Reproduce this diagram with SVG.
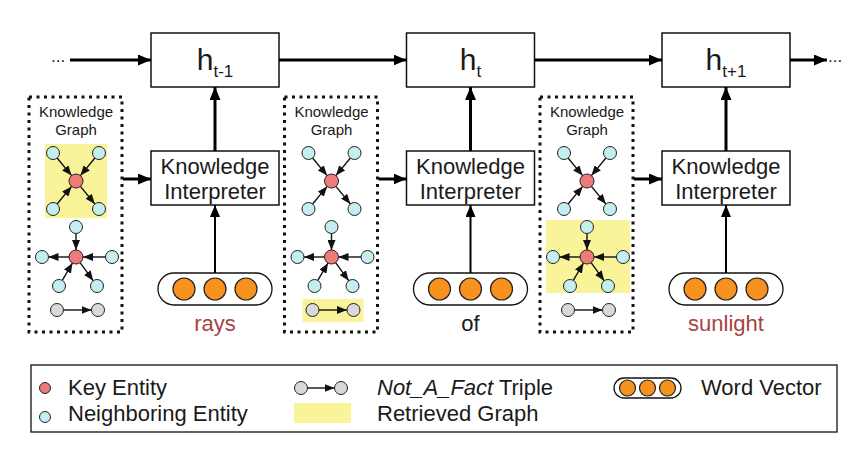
<svg xmlns="http://www.w3.org/2000/svg" width="864" height="462" viewBox="0 0 864 462">
<style>
text{font-family:"Liberation Sans",Arial,sans-serif;fill:#1a1a1a}
.box{fill:#fff;stroke:#111;stroke-width:1.5}
.dot{fill:none;stroke:#111;stroke-width:3;stroke-dasharray:3 4.5}
.key{fill:#ee7b78;stroke:#222;stroke-width:1}
.nb{fill:#c4eef0;stroke:#222;stroke-width:1}
.gr{fill:#d9d9d9;stroke:#222;stroke-width:1}
.or{fill:#f7921e;stroke:#222;stroke-width:1.2}
.hl{fill:#f9f49a}
.ga{stroke:#111;stroke-width:1.4;marker-end:url(#sa)}
.big{stroke:#000;stroke-width:3;fill:none;marker-end:url(#ba)}
.mid{stroke:#000;stroke-width:2;fill:none;marker-end:url(#ma)}
.ki{font-size:22px;text-anchor:middle}
.kg{font-size:15px;text-anchor:middle}
.lg{font-size:22px}
.w{font-size:22px;text-anchor:middle}
</style>
<defs>
<marker id="sa" markerUnits="userSpaceOnUse" markerWidth="10" markerHeight="8" refX="10" refY="4" orient="auto"><path d="M0,0 L10,4 L0,8 z" fill="#111"/></marker>
<marker id="ba" markerUnits="userSpaceOnUse" markerWidth="13" markerHeight="11" refX="13" refY="5.5" orient="auto"><path d="M0,0 L13,5.5 L0,11 z" fill="#000"/></marker>
<marker id="ma" markerUnits="userSpaceOnUse" markerWidth="12" markerHeight="10" refX="12" refY="5" orient="auto"><path d="M0,0 L12,5 L0,10 z" fill="#000"/></marker>
<g id="kgraph">
<rect class="dot" x="29" y="97" width="93" height="235"/>
<text class="kg" x="76" y="117">Knowledge</text>
<text class="kg" x="76" y="135">Graph</text>
<line class="ga" x1="57.1" y1="158.0" x2="71.6" y2="175.6"/>
<line class="ga" x1="94.9" y1="158.0" x2="80.4" y2="175.6"/>
<line class="ga" x1="57.1" y1="204.0" x2="71.6" y2="186.4"/>
<line class="ga" x1="80.4" y1="186.4" x2="94.9" y2="204.0"/>
<circle class="nb" cx="53" cy="153" r="6.5"/>
<circle class="nb" cx="99" cy="153" r="6.5"/>
<circle class="nb" cx="53" cy="209" r="6.5"/>
<circle class="nb" cx="99" cy="209" r="6.5"/>
<circle class="key" cx="76" cy="181" r="7"/>
<line class="ga" x1="76" y1="233.5" x2="76" y2="250"/>
<line class="ga" x1="69" y1="257" x2="48.5" y2="257"/>
<line class="ga" x1="105.5" y1="257" x2="83" y2="257"/>
<line class="ga" x1="62.3" y1="280.4" x2="72.5" y2="263"/>
<line class="ga" x1="80.1" y1="262.7" x2="93.2" y2="280.7"/>
<circle class="nb" cx="76" cy="227" r="6.5"/>
<circle class="nb" cx="42" cy="257" r="6.5"/>
<circle class="nb" cx="112" cy="257" r="6.5"/>
<circle class="nb" cx="59" cy="286" r="6.5"/>
<circle class="nb" cx="97" cy="286" r="6.5"/>
<circle class="key" cx="76" cy="257" r="7"/>
<line class="ga" x1="63.5" y1="310" x2="91.5" y2="310"/>
<circle class="gr" cx="57" cy="310" r="6.5"/>
<circle class="gr" cx="98" cy="310" r="6.5"/>
</g>
<g id="wvec">
<rect x="158" y="273" width="114" height="32" rx="16" fill="#fff" stroke="#111" stroke-width="1.3"/>
<circle class="or" cx="184" cy="289" r="11"/>
<circle class="or" cx="215" cy="289" r="11"/>
<circle class="or" cx="246" cy="289" r="11"/>
</g>
</defs>

<!-- hidden states -->
<g id="h_tm1"><rect class="box" x="151" y="33" width="128" height="54"/>
<text x="215" y="70" font-size="30" text-anchor="middle">h<tspan font-size="17" dy="7">t-1</tspan></text></g>
<g id="h_t"><rect class="box" x="406.5" y="33" width="128" height="54"/>
<text x="470.5" y="70" font-size="30" text-anchor="middle">h<tspan font-size="17" dy="7">t</tspan></text></g>
<g id="h_tp1"><rect class="box" x="662" y="33" width="128" height="54"/>
<text x="726" y="70" font-size="30" text-anchor="middle">h<tspan font-size="17" dy="7">t+1</tspan></text></g>

<!-- knowledge graphs -->
<g id="kg1">
<rect class="hl" x="45" y="144" width="62" height="74"/>
<use href="#kgraph"/>
</g>
<g id="kg2" transform="translate(255.5,0)">
<rect class="hl" x="47" y="299" width="61" height="23"/>
<use href="#kgraph"/>
</g>
<g id="kg3" transform="translate(511,0)">
<rect class="hl" x="35" y="220" width="84" height="73"/>
<use href="#kgraph"/>
</g>

<!-- knowledge interpreters -->
<g id="ki1"><rect class="box" x="151" y="151" width="128" height="54"/>
<text class="ki" x="215" y="174">Knowledge</text><text class="ki" x="215" y="199">Interpreter</text></g>
<g id="ki2"><rect class="box" x="406.5" y="151" width="128" height="54"/>
<text class="ki" x="470.5" y="174">Knowledge</text><text class="ki" x="470.5" y="199">Interpreter</text></g>
<g id="ki3"><rect class="box" x="662" y="151" width="128" height="54"/>
<text class="ki" x="726" y="174">Knowledge</text><text class="ki" x="726" y="199">Interpreter</text></g>

<!-- word vectors -->
<g id="wv1"><use href="#wvec"/><text class="w" x="215" y="331" style="fill:#a64442">rays</text></g>
<g id="wv2" transform="translate(255.5,0)"><use href="#wvec"/><text class="w" x="215" y="331">of</text></g>
<g id="wv3" transform="translate(511,0)"><use href="#wvec"/><text class="w" x="215" y="331" style="fill:#a64442">sunlight</text></g>

<!-- connectors -->
<g id="connectors">
<text x="51" y="62" font-size="17">...</text>
<line class="big" x1="70" y1="60" x2="151" y2="60"/>
<line class="big" x1="279" y1="60" x2="406.5" y2="60"/>
<line class="big" x1="534.5" y1="60" x2="662" y2="60"/>
<line class="big" x1="790" y1="60" x2="827" y2="60"/>
<text x="828" y="62" font-size="17">...</text>
<line class="big" x1="215" y1="151" x2="215" y2="87"/>
<line class="big" x1="470.5" y1="151" x2="470.5" y2="87"/>
<line class="big" x1="726" y1="151" x2="726" y2="87"/>
<line class="big" x1="123" y1="179" x2="151" y2="179"/>
<line class="big" x1="378.5" y1="179" x2="406.5" y2="179"/>
<line class="big" x1="634" y1="179" x2="662" y2="179"/>
<line class="mid" x1="215" y1="273" x2="215" y2="205"/>
<line class="mid" x1="470.5" y1="273" x2="470.5" y2="205"/>
<line class="mid" x1="726" y1="273" x2="726" y2="205"/>
</g>

<!-- legend -->
<g id="legend">
<rect x="31" y="365" width="806" height="67" fill="#fff" stroke="#111" stroke-width="1.3"/>
<circle class="key" cx="45" cy="388" r="5.5"/>
<text class="lg" x="68" y="395">Key Entity</text>
<circle class="nb" cx="45" cy="417" r="5.5"/>
<text class="lg" x="68" y="421">Neighboring Entity</text>
<line class="ga" x1="307.5" y1="388" x2="334.5" y2="388"/>
<circle class="gr" cx="301" cy="388" r="6.5"/>
<circle class="gr" cx="341" cy="388" r="6.5"/>
<text class="lg" x="377" y="395"><tspan font-style="italic">Not_A_Fact</tspan> Triple</text>
<rect class="hl" x="294" y="403" width="57" height="20"/>
<text class="lg" x="377" y="421">Retrieved Graph</text>
<rect x="614" y="378" width="67" height="20" rx="10" fill="#fff" stroke="#111" stroke-width="1.3"/>
<circle class="or" cx="627.5" cy="388" r="8"/>
<circle class="or" cx="647.5" cy="388" r="8"/>
<circle class="or" cx="667.5" cy="388" r="8"/>
<text class="lg" x="701" y="395">Word Vector</text>
</g>
</svg>
